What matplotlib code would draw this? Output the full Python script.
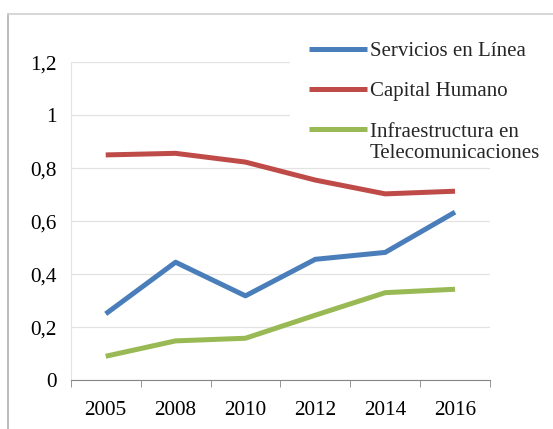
import matplotlib.pyplot as plt
from matplotlib.lines import Line2D

years = ["2005", "2008", "2010", "2012", "2014", "2016"]
servicios = [0.25, 0.445, 0.318, 0.456, 0.482, 0.634]
capital = [0.850, 0.856, 0.823, 0.755, 0.703, 0.713]
infra = [0.090, 0.148, 0.158, 0.245, 0.330, 0.343]

labels = ["Servicios en Línea", "Capital Humano", "Infraestructura en"]
label_cont = "Telecomunicaciones"
colors = ["#4a7ebb", "#be4b48", "#98b954"]

plt.rcParams["font.family"] = ["Liberation Serif", "DejaVu Serif"]

fig = plt.figure(figsize=(5.53, 4.29), dpi=100)
ax = fig.add_axes([0.128, 0.114, 0.758, 0.741])

x = range(len(years))
for vals, lab, col in zip([servicios, capital, infra], labels, colors):
    ax.plot(x, vals, color=col, linewidth=3.6, label=lab,
            solid_capstyle="butt")

ax.set_xlim(-0.5, len(years) - 0.5)
ax.set_ylim(0, 1.2)
ax.set_yticks([0, 0.2, 0.4, 0.6, 0.8, 1.0, 1.2])
ax.set_yticklabels(["0", "0,2", "0,4", "0,6", "0,8", "1", "1,2"])
ax.set_xticks(list(x))
ax.set_xticklabels(years)
ax.set_xticks([i - 0.5 for i in range(len(years) + 1)], minor=True)

ax.tick_params(axis="x", which="major", length=0, pad=15, labelsize=15.3)
ax.tick_params(axis="x", which="minor", length=5, color="#868686")
ax.tick_params(axis="y", length=0, pad=10, labelsize=15.3)

ax.grid(axis="y", color="#e3e3e3", linewidth=0.9)
ax.set_axisbelow(True)
for side in ["top", "right"]:
    ax.spines[side].set_visible(False)
ax.spines["bottom"].set_color("#868686")
ax.spines["left"].set_color("#e3e3e3")

leg = ax.legend(
    loc="upper left",
    bbox_to_anchor=(0.505, 0.974),
    bbox_transform=fig.transFigure,
    fontsize=15,
    handlelength=2.75,
    handletextpad=0.15,
    labelspacing=1.0,
    borderpad=0.95,
    frameon=True,
    fancybox=False,
)
leg.get_frame().set_facecolor("white")
leg.get_frame().set_edgecolor("none")
leg.get_frame().set_alpha(1)
for t in leg.get_texts():
    t.set_color("#262626")

# second line of the third legend label, under the first line
fig.text(370 / 553, 1 - 154 / 429, label_cont, fontsize=15,
         color="#262626", va="center", ha="left")

# outer chart border (left and top edges visible)
fig.add_artist(Line2D([0.0145, 0.0145], [0, 0.967], transform=fig.transFigure,
                      color="#b0b0b0", linewidth=1.2))
fig.add_artist(Line2D([0.0145, 1.0], [0.967, 0.967], transform=fig.transFigure,
                      color="#d0d0d0", linewidth=1.2))

fig.savefig("out.png", dpi=100)
